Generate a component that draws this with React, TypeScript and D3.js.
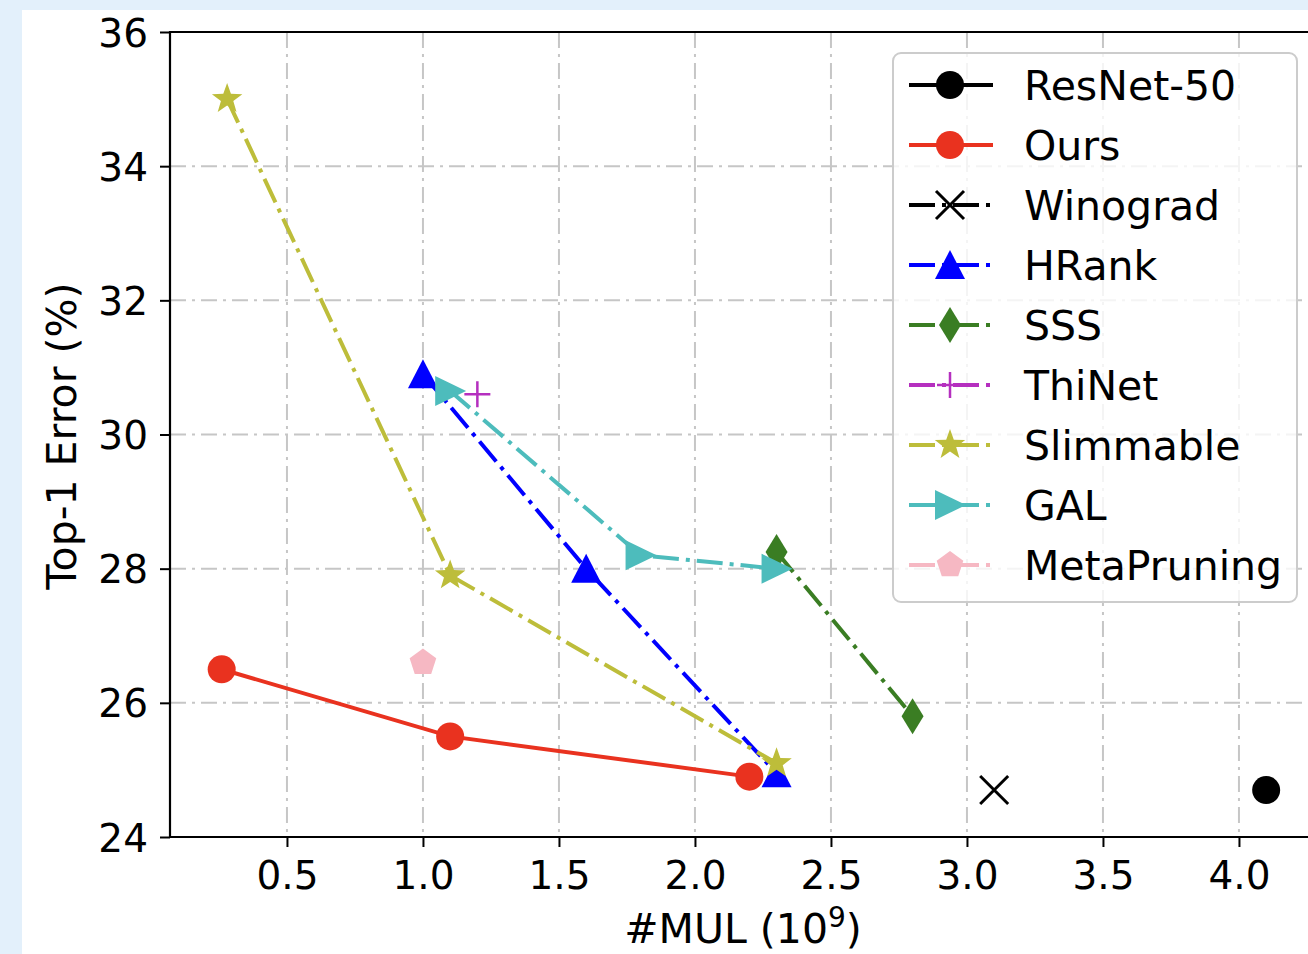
import React, { useEffect, useRef } from "react";
import * as d3 from "d3";

// tick values
const xTicks = [0.5, 1.0, 1.5, 2.0, 2.5, 3.0, 3.5, 4.0];
const yTicks = [24, 26, 28, 30, 32, 34, 36];

// series values: #MUL (10^9) vs Top-1 error (%)
const resnetMul = [4.1];
const resnetErr = [24.7];
const oursMul = [0.26, 1.1, 2.2];
const oursErr = [26.5, 25.5, 24.9];
const winogradMul = [3.1];
const winogradErr = [24.7];
const hrankMul = [1.0, 1.6, 2.3];
const hrankErr = [30.9, 28.0, 24.95];
const sssMul = [2.3, 2.8];
const sssErr = [28.25, 25.8];
const thinetMul = [1.2];
const thinetErr = [30.6];
const slimMul = [0.28, 1.1, 2.3];
const slimErr = [35.0, 27.9, 25.1];
const galMul = [1.1, 1.8, 2.3];
const galErr = [30.65, 28.2, 28.0];
const metaMul = [1.0];
const metaErr = [26.6];

type Marker = "circle" | "x" | "tri" | "diamond" | "plus" | "star" | "right" | "pentagon";

const series: { name: string; mul: number[]; err: number[]; color: string; marker: Marker; dashed: boolean }[] = [
  { name: "ResNet-50", mul: resnetMul, err: resnetErr, color: "#000000", marker: "circle", dashed: false },
  { name: "Ours", mul: oursMul, err: oursErr, color: "#e9321f", marker: "circle", dashed: false },
  { name: "Winograd", mul: winogradMul, err: winogradErr, color: "#000000", marker: "x", dashed: true },
  { name: "HRank", mul: hrankMul, err: hrankErr, color: "#0000ff", marker: "tri", dashed: true },
  { name: "SSS", mul: sssMul, err: sssErr, color: "#3a7d23", marker: "diamond", dashed: true },
  { name: "ThiNet", mul: thinetMul, err: thinetErr, color: "#b52fbf", marker: "plus", dashed: true },
  { name: "Slimmable", mul: slimMul, err: slimErr, color: "#bdbd3a", marker: "star", dashed: true },
  { name: "GAL", mul: galMul, err: galErr, color: "#4dbcbc", marker: "right", dashed: true },
  { name: "MetaPruning", mul: metaMul, err: metaErr, color: "#f6b8c3", marker: "pentagon", dashed: true },
];

const FONT = "DejaVu Sans, sans-serif";
const DASH = "26,7,4,7";

function markerPath(m: Marker): string {
  if (m === "circle") return d3.symbol(d3.symbolCircle, Math.PI * 14 * 14)()!;
  if (m === "tri") return "M0,-15L15,14L-15,14Z";
  if (m === "right") return "M16,0L-15,-15L-15,15Z";
  if (m === "diamond") return "M0,-18L11,0L0,18L-11,0Z";
  if (m === "x") return "M-14,-14L14,14M-14,14L14,-14";
  if (m === "plus") return "M-13,0L13,0M0,-13L0,13";
  if (m === "star") {
    const pts: string[] = [];
    for (let i = 0; i < 10; i++) {
      const r = i % 2 === 0 ? 16 : 6.5;
      const a = -Math.PI / 2 + (i * Math.PI) / 5;
      pts.push(`${r * Math.cos(a)},${r * Math.sin(a)}`);
    }
    return "M" + pts.join("L") + "Z";
  }
  // pentagon
  const pts: string[] = [];
  for (let i = 0; i < 5; i++) {
    const a = -Math.PI / 2 + (i * 2 * Math.PI) / 5;
    pts.push(`${14 * Math.cos(a)},${14 * Math.sin(a)}`);
  }
  return "M" + pts.join("L") + "Z";
}

function drawMarker(g: any, m: Marker, color: string, x: number, y: number) {
  const stroked = m === "x" || m === "plus";
  g.append("path")
    .attr("d", markerPath(m))
    .attr("transform", `translate(${x},${y})`)
    .attr("fill", stroked ? "none" : color)
    .attr("stroke", stroked ? color : "none")
    .attr("stroke-width", m === "x" ? 3 : 2.5);
}

export default function App() {
  const ref = useRef<SVGSVGElement>(null);

  useEffect(() => {
    const svg = d3.select(ref.current);
    svg.selectAll("*").remove();

    const left = 170, top = 32, bottom = 837;
    const x = d3.scaleLinear().domain([0.07, 4.3]).range([left, left + 4.23 * 272]);
    const y = d3.scaleLinear().domain([24, 36]).range([bottom, top]);

    // page background
    svg.append("rect").attr("width", 1308).attr("height", 954).attr("fill", "#e3f0fb");
    svg.append("rect").attr("x", 22).attr("y", 10).attr("width", 1286).attr("height", 944).attr("fill", "#ffffff");

    // grid
    const grid = svg.append("g");
    grid.selectAll("line.gx").data(xTicks).enter().append("line")
      .attr("x1", d => x(d)).attr("x2", d => x(d)).attr("y1", top).attr("y2", bottom)
      .attr("stroke", "#c6c6c6").attr("stroke-width", 2).attr("stroke-dasharray", "16,6,3,6");
    grid.selectAll("line.gy").data(yTicks.slice(1, -1)).enter().append("line")
      .attr("x1", left).attr("x2", 1308).attr("y1", d => y(d)).attr("y2", d => y(d))
      .attr("stroke", "#c6c6c6").attr("stroke-width", 2).attr("stroke-dasharray", "16,6,3,6");

    // axes
    const xAxis = svg.append("g").attr("transform", `translate(0,${bottom})`)
      .call(d3.axisBottom(x).tickValues(xTicks).tickFormat(d3.format(".1f")).tickSize(10).tickPadding(12));
    const yAxis = svg.append("g").attr("transform", `translate(${left},0)`)
      .call(d3.axisLeft(y).tickValues(yTicks).tickFormat(d3.format("d")).tickSize(10).tickPadding(12));
    [xAxis, yAxis].forEach(a => {
      a.select(".domain").remove();
      a.selectAll(".tick line").attr("stroke", "#000").attr("stroke-width", 2);
      a.selectAll(".tick text").attr("fill", "#000").style("font-family", FONT).style("font-size", "39px");
    });
    xAxis.selectAll(".tick text").attr("dy", "0.76em");
    yAxis.selectAll(".tick text").attr("dy", "0.36em");

    // spines
    svg.append("line").attr("x1", left).attr("x2", left).attr("y1", top - 1).attr("y2", bottom + 1)
      .attr("stroke", "#000").attr("stroke-width", 2.2);
    svg.append("line").attr("x1", left).attr("x2", 1308).attr("y1", bottom).attr("y2", bottom)
      .attr("stroke", "#000").attr("stroke-width", 2.2);
    svg.append("line").attr("x1", left).attr("x2", 1308).attr("y1", top).attr("y2", top)
      .attr("stroke", "#000").attr("stroke-width", 2.2);

    // series
    series.forEach(s => {
      const g = svg.append("g");
      const pts: [number, number][] = s.mul.map((m, i) => [x(m), y(s.err[i])]);
      if (pts.length > 1) {
        g.append("path")
          .attr("d", d3.line()(pts))
          .attr("fill", "none")
          .attr("stroke", s.color)
          .attr("stroke-width", 4)
          .attr("stroke-dasharray", s.dashed ? DASH : null);
      }
      pts.forEach(p => drawMarker(g, s.marker, s.color, p[0], p[1]));
    });

    // legend
    const lg = svg.append("g");
    lg.append("rect").attr("x", 893).attr("y", 53).attr("width", 404).attr("height", 549)
      .attr("rx", 8).attr("fill", "#ffffff").attr("fill-opacity", 0.8)
      .attr("stroke", "#cccccc").attr("stroke-width", 2);
    series.forEach((s, i) => {
      const cy = 85 + i * 60;
      lg.append("line").attr("x1", 909).attr("x2", 993).attr("y1", cy).attr("y2", cy)
        .attr("stroke", s.color).attr("stroke-width", 4)
        .attr("stroke-dasharray", s.dashed ? DASH : null);
      drawMarker(lg, s.marker, s.color, 950, cy);
      lg.append("text").attr("x", 1024).attr("y", cy + 15)
        .style("font-family", FONT).style("font-size", "41px").attr("fill", "#000")
        .text(s.name);
    });

    // axis labels
    const xl = svg.append("text").attr("x", 743).attr("y", 943).attr("text-anchor", "middle")
      .style("font-family", FONT).style("font-size", "41px").attr("fill", "#000");
    xl.append("tspan").text("#MUL (10");
    xl.append("tspan").attr("dy", -16).style("font-size", "28px").text("9");
    xl.append("tspan").attr("dy", 16).text(")");

    svg.append("text").attr("transform", "translate(76,436) rotate(-90)").attr("text-anchor", "middle")
      .style("font-family", FONT).style("font-size", "41px").attr("fill", "#000")
      .text("Top-1 Error (%)");
  }, []);

  return (
    <svg ref={ref} width={1308} height={954} style={{ position: "absolute", left: 0, top: 0 }} />
  );
}
